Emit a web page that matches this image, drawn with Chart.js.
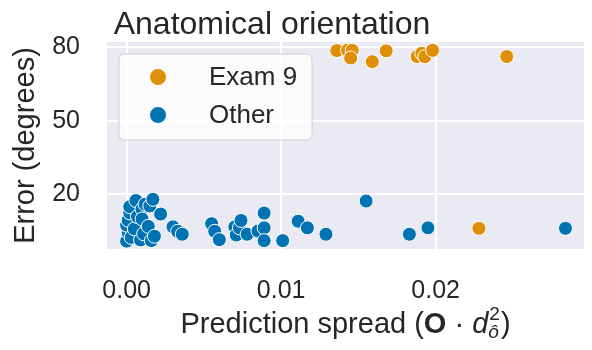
<!DOCTYPE html>
<html>
<head>
<script src="https://cdn.jsdelivr.net/npm/chart.js"></script>
<style>
  html, body { margin: 0; padding: 0; background: #fff; }
  canvas { display: block; }
</style>
</head>
<body>
<canvas id="errChart" width="592" height="350"></canvas>
<script>
// values
const seriesNames = ['Exam 9', 'Other'];
const examX = [0.0136, 0.0143, 0.0146, 0.0145, 0.0159, 0.0168, 0.0188, 0.0191, 0.0193, 0.0198, 0.0246, 0.0228];
const examY = [78.5, 78.7, 78.6, 75.5, 74.0, 78.4, 76.1, 77.4, 76.0, 78.6, 76.1, 6.2];
const otherX = [0.0000, 0.0001, 0.0000, 0.0001, 0.0002, 0.0002, 0.0003, 0.0005, 0.0006, 0.0007,
                0.0009, 0.0010, 0.0010, 0.0011, 0.0012, 0.0014, 0.0015, 0.0016, 0.0017, 0.0018,
                0.0022, 0.0030, 0.0033, 0.0036, 0.0055, 0.0057, 0.0060, 0.0070, 0.0071, 0.0073,
                0.0074, 0.0078, 0.0085, 0.0089, 0.0089, 0.0089, 0.0101, 0.0111, 0.0117, 0.0129,
                0.0155, 0.0183, 0.0195, 0.0284];
const otherY = [1.0, 4.5, 7.5, 9.5, 12.5, 15.0, 2.5, 6.0, 17.5, 11.0,
                1.5, 14.0, 10.0, 4.0, 16.0, 7.0, 15.3, 1.2, 18.0, 3.0,
                12.0, 6.8, 5.0, 3.8, 8.1, 5.0, 1.6, 6.8, 3.5, 6.4,
                9.4, 3.8, 5.1, 12.4, 6.4, 1.2, 1.2, 9.1, 6.4, 3.8,
                17.3, 3.8, 6.4, 6.2];
const xTicks = [0, 0.01, 0.02];
const yTicks = [20, 50, 80];

const toPoints = (xs, ys) => xs.map((x, i) => ({ x: x, y: ys[i] }));
const FONT = '"Liberation Sans", Arial, sans-serif';
const TEXT = '#262626';

// grey panel behind the plot, seaborn style
const panelBg = {
  id: 'panelBg',
  beforeDraw(chart) {
    const a = chart.chartArea, ctx = chart.ctx;
    ctx.save();
    ctx.fillStyle = '#eaeaf2';
    ctx.fillRect(a.left, a.top, a.right - a.left, a.bottom - a.top);
    ctx.restore();
  }
};

// title, legend box and the x axis label with sub/superscripts
const decorations = {
  id: 'decorations',
  afterDraw(chart) {
    const a = chart.chartArea, ctx = chart.ctx;
    ctx.save();

    ctx.fillStyle = TEXT;
    ctx.font = '32px ' + FONT;
    ctx.textAlign = 'center';
    ctx.textBaseline = 'alphabetic';
    ctx.fillText('Anatomical orientation', 272, 34);

    // legend
    const x0 = a.left + 12, y0 = a.top + 12;
    ctx.beginPath();
    ctx.roundRect(x0, y0, 193, 86, 5);
    ctx.fillStyle = 'rgba(255,255,255,0.8)';
    ctx.fill();
    ctx.strokeStyle = '#cfcfcf';
    ctx.lineWidth = 1;
    ctx.stroke();
    ctx.textAlign = 'left';
    ctx.textBaseline = 'middle';
    chart.data.datasets.forEach((ds, i) => {
      const cy = y0 + 23 + i * 38;
      ctx.beginPath();
      ctx.arc(x0 + 39, cy, 8.5, 0, Math.PI * 2);
      ctx.fillStyle = ds.backgroundColor;
      ctx.fill();
      ctx.strokeStyle = '#fff';
      ctx.stroke();
      ctx.fillStyle = TEXT;
      ctx.font = '26px ' + FONT;
      ctx.fillText(ds.label, x0 + 90, cy + 1);
    });

    // x axis label: Prediction spread (O · d_ô^2)
    const base = 333;
    const parts = [
      { t: 'Prediction spread (', f: '29px ' + FONT },
      { t: 'O', f: 'bold 29px ' + FONT },
      { t: ' \u00b7 ', f: '29px ' + FONT },
      { t: 'd', f: 'italic 29px ' + FONT },
      { sup: '2', sub: '\u00f4', f: '19px ' + FONT, fi: 'italic 19px ' + FONT },
      { t: ')', f: '29px ' + FONT }
    ];
    let total = 0;
    parts.forEach(p => {
      if (p.sup) {
        ctx.font = p.f; const w1 = ctx.measureText(p.sup).width;
        ctx.font = p.fi; const w2 = ctx.measureText(p.sub).width;
        p.w = Math.max(w1, w2) + 2;
      } else {
        ctx.font = p.f; p.w = ctx.measureText(p.t).width;
      }
      total += p.w;
    });
    let x = (a.left + a.right) / 2 - total / 2;
    ctx.textBaseline = 'alphabetic';
    ctx.fillStyle = TEXT;
    parts.forEach(p => {
      if (p.sup) {
        ctx.font = p.f; ctx.fillText(p.sup, x + 1, base - 13);
        ctx.font = p.fi; ctx.fillText(p.sub, x, base + 5);
      } else {
        ctx.font = p.f; ctx.fillText(p.t, x, base);
      }
      x += p.w;
    });
    ctx.restore();
  }
};

new Chart(document.getElementById('errChart'), {
  type: 'scatter',
  data: {
    datasets: [
      {
        label: seriesNames[0],
        data: toPoints(examX, examY),
        backgroundColor: '#de8f05',
        borderColor: '#ffffff',
        borderWidth: 1,
        pointRadius: 7
      },
      {
        label: seriesNames[1],
        data: toPoints(otherX, otherY),
        backgroundColor: '#0173b2',
        borderColor: '#ffffff',
        borderWidth: 1,
        pointRadius: 7
      }
    ]
  },
  options: {
    responsive: false,
    animation: false,
    devicePixelRatio: 1,
    layout: { padding: { top: 35, right: 0, bottom: 0, left: 0 } },
    plugins: {
      legend: { display: false },
      tooltip: { enabled: false }
    },
    scales: {
      x: {
        type: 'linear',
        min: -0.00127,
        max: 0.0296,
        afterBuildTicks: s => { s.ticks = xTicks.map(v => ({ value: v })); },
        afterFit: s => { s.height = 101; },
        border: { display: false },
        grid: { color: '#ffffff', lineWidth: 2, drawTicks: false },
        ticks: {
          padding: 27,
          color: TEXT,
          font: { family: FONT, size: 25 },
          callback: v => v.toFixed(2)
        }
      },
      y: {
        type: 'linear',
        min: -2.2,
        max: 82,
        afterBuildTicks: s => { s.ticks = yTicks.map(v => ({ value: v })); },
        afterFit: s => { s.width = 107; },
        border: { display: false },
        grid: { color: '#ffffff', lineWidth: 2, drawTicks: false },
        ticks: {
          padding: 27,
          color: TEXT,
          font: { family: FONT, size: 25 }
        },
        title: {
          display: true,
          text: 'Error (degrees)',
          color: TEXT,
          font: { family: FONT, size: 29 },
          padding: { top: 9, bottom: 0 }
        }
      }
    }
  },
  plugins: [panelBg, decorations]
});
</script>
</body>
</html>
